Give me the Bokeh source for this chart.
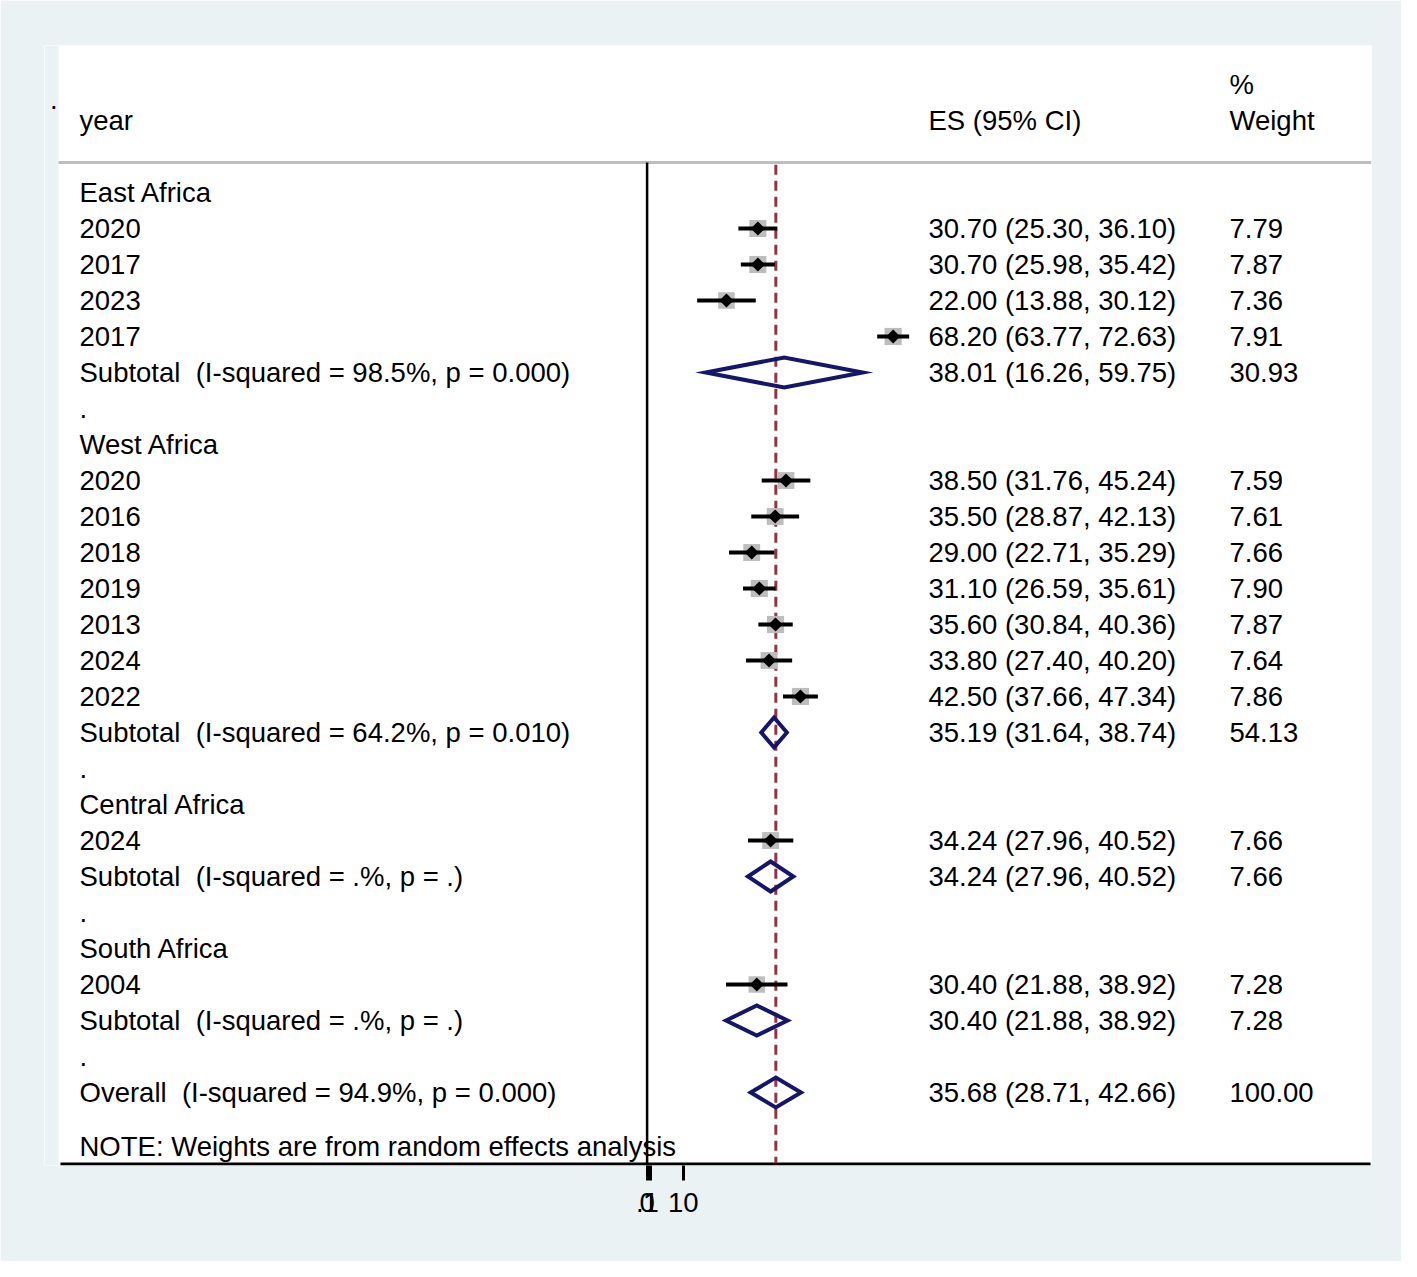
from bokeh.plotting import figure
from bokeh.models import Range1d, FixedTicker
from bokeh.core.properties import value
from bokeh.embed import file_html
from bokeh.resources import INLINE

# ---------------- data ----------------
groups = ["East Africa", "West Africa", "Central Africa", "South Africa"]
study_group = [0, 0, 0, 0, 1, 1, 1, 1, 1, 1, 1, 2, 3]
study_year = ["2020", "2017", "2023", "2017",
              "2020", "2016", "2018", "2019", "2013", "2024", "2022",
              "2024", "2004"]
study_es = [30.70, 30.70, 22.00, 68.20, 38.50, 35.50, 29.00, 31.10, 35.60, 33.80, 42.50, 34.24, 30.40]
study_lo = [25.30, 25.98, 13.88, 63.77, 31.76, 28.87, 22.71, 26.59, 30.84, 27.40, 37.66, 27.96, 21.88]
study_hi = [36.10, 35.42, 30.12, 72.63, 45.24, 42.13, 35.29, 35.61, 40.36, 40.20, 47.34, 40.52, 38.92]
study_wt = [7.79, 7.87, 7.36, 7.91, 7.59, 7.61, 7.66, 7.90, 7.87, 7.64, 7.86, 7.66, 7.28]

sub_es = [38.01, 35.19, 34.24, 30.40]
sub_lo = [16.26, 31.64, 27.96, 21.88]
sub_hi = [59.75, 38.74, 40.52, 38.92]
sub_wt = [30.93, 54.13, 7.66, 7.28]
sub_i2 = ["98.5", "64.2", ".", "."]
sub_p = ["0.000", "0.010", ".", "."]

overall_es, overall_lo, overall_hi, overall_wt = 35.68, 28.71, 42.66, 100.00
overall_i2, overall_p = "94.9", "0.000"

tick_values = [0, 0.1, 1, 10]
tick_labels = {0: "0", 0.1: ".1", 1: "1", 10: "10"}

note_text = "NOTE: Weights are from random effects analysis"

# ---------------- layout helpers (pixel positions of the layout) ----------------
PX_ZERO = 646.6      # pixel of x = 0
PX_PER_UNIT = 3.608  # pixels per unit of ES
ROW0_PX = 192.0
ROW_PX = 36.0


def xd(px):
    return (px - PX_ZERO) / PX_PER_UNIT


def yr(px):
    return (px - ROW0_PX) / ROW_PX


FONT = "Liberation Sans"
FS = "27.5px"
NAVY = "#15166a"
MAROON = "#93343e"
BG = "#eaf2f3"

FR_L, FR_R, FR_T, FR_B = 44, 1371, 45, 1165
PANEL_L, PANEL_B = 58, 1162.5
W, Hh = 1401, 1261

x_lab, x_es, x_wt = xd(79), xd(928), xd(1229)
y_top, y_bot = yr(FR_T), yr(FR_B)
y_panel_b = yr(PANEL_B)
sep_row = yr(162)

# build rows
lab_x, lab_y, lab_t = [], [], []
es_y, es_t, wt_t = [], [], []
st_y, st_es, st_lo, st_hi, st_wt = [], [], [], [], []
dm_xs, dm_ys = [], []
HD = 15.0 / ROW_PX


def add_diamond(r, e, lo, hi):
    dm_xs.append([lo, e, hi, e])
    dm_ys.append([r, r - HD, r, r + HD])


r = 0
for g, name in enumerate(groups):
    lab_x.append(x_lab); lab_y.append(r); lab_t.append(name)
    r += 1
    for i in range(len(study_year)):
        if study_group[i] != g:
            continue
        lab_x.append(x_lab); lab_y.append(r); lab_t.append(study_year[i])
        es_y.append(r)
        es_t.append(f"{study_es[i]:.2f} ({study_lo[i]:.2f}, {study_hi[i]:.2f})")
        wt_t.append(f"{study_wt[i]:.2f}")
        st_y.append(r); st_es.append(study_es[i]); st_lo.append(study_lo[i])
        st_hi.append(study_hi[i]); st_wt.append(study_wt[i])
        r += 1
    lab_x.append(x_lab); lab_y.append(r)
    lab_t.append(f"Subtotal\u00a0 (I-squared = {sub_i2[g]}%, p = {sub_p[g]})")
    es_y.append(r)
    es_t.append(f"{sub_es[g]:.2f} ({sub_lo[g]:.2f}, {sub_hi[g]:.2f})")
    wt_t.append(f"{sub_wt[g]:.2f}")
    add_diamond(r, sub_es[g], sub_lo[g], sub_hi[g])
    r += 1
    lab_x.append(x_lab); lab_y.append(r); lab_t.append(".")
    r += 1

lab_x.append(x_lab); lab_y.append(r)
lab_t.append(f"Overall\u00a0 (I-squared = {overall_i2}%, p = {overall_p})")
es_y.append(r)
es_t.append(f"{overall_es:.2f} ({overall_lo:.2f}, {overall_hi:.2f})")
wt_t.append(f"{overall_wt:.2f}")
add_diamond(r, overall_es, overall_lo, overall_hi)
note_row = r + 1.5

# ---------------- figure ----------------
p = figure(width=W, height=Hh, output_backend="svg", toolbar_location=None,
           x_range=Range1d(xd(FR_L), xd(FR_R)), y_range=Range1d(y_bot, y_top),
           min_border_left=FR_L, min_border_right=W - FR_R, min_border_top=FR_T,
           min_border_bottom=Hh - FR_B, y_axis_location=None)
p.background_fill_color = "white"
p.border_fill_color = BG
p.outline_line_color = None
p.xgrid.visible = False
p.ygrid.visible = False

# light strips that belong to the outer region
p.quad(left=[xd(FR_L), xd(FR_L)], right=[xd(PANEL_L), xd(FR_R)],
       top=[y_top, y_panel_b], bottom=[y_bot, y_bot],
       fill_color=BG, line_color=None)

xa = p.xaxis[0]
xa.ticker = FixedTicker(ticks=tick_values)
xa.major_label_overrides = tick_labels
xa.axis_line_color = None
xa.major_tick_line_width = 3
xa.major_tick_line_color = "black"
xa.major_tick_in = 0
xa.major_tick_out = 15
xa.minor_tick_line_color = None
xa.major_label_text_font = FONT
xa.major_label_text_font_size = FS
xa.major_label_text_color = "black"
xa.major_label_standoff = 12

# axis line
p.segment(x0=[xd(60)], y0=[yr(1163.5)], x1=[xd(1370)], y1=[yr(1163.5)],
          line_color="black", line_width=3)
# header separator
p.segment(x0=[xd(PANEL_L)], y0=[sep_row], x1=[xd(FR_R)], y1=[sep_row],
          line_color="#bebebe", line_width=3)
# null line
p.segment(x0=[0], y0=[sep_row], x1=[0], y1=[y_bot], line_color="black", line_width=2.5)
# overall dashed line
p.segment(x0=[overall_es], y0=[sep_row + 0.06], x1=[overall_es], y1=[y_panel_b],
          line_color=MAROON, line_width=3, line_dash="10 6")

# weight boxes
box_size = [6.1 * (w ** 0.5) for w in st_wt]
p.scatter(x=st_es, y=st_y, size=box_size, marker="square",
          fill_color="#bdbdbd", line_color=None)
# CI lines
p.segment(x0=st_lo, y0=st_y, x1=st_hi, y1=st_y, line_color="black", line_width=4)
# point estimates
p.scatter(x=st_es, y=st_y, size=10, marker="square", angle=0.785398,
          fill_color="black", line_color=None)
# diamonds
p.patches(xs=dm_xs, ys=dm_ys, fill_color="white", fill_alpha=0.0,
          line_color=NAVY, line_width=4, line_join="miter")

# texts
tkw = dict(text_font=value(FONT), text_font_size=value(FS), text_color="black",
           text_baseline="middle", text_align="left")
p.text(x=lab_x, y=lab_y, text=lab_t, **tkw)
p.text(x=[x_es] * len(es_y), y=es_y, text=es_t, **tkw)
p.text(x=[x_wt] * len(es_y), y=es_y, text=wt_t, **tkw)
p.text(x=[x_lab, x_es, x_wt, x_wt], y=[-2, -2, -2, -3],
       text=["year", "ES (95% CI)", "Weight", "%"], **tkw)
p.text(x=[x_lab], y=[note_row], text=[note_text], **tkw)
p.text(x=[xd(49.5)], y=[yr(99)], text=["."], **tkw)

open("out.html", "w").write(file_html(p, INLINE))
